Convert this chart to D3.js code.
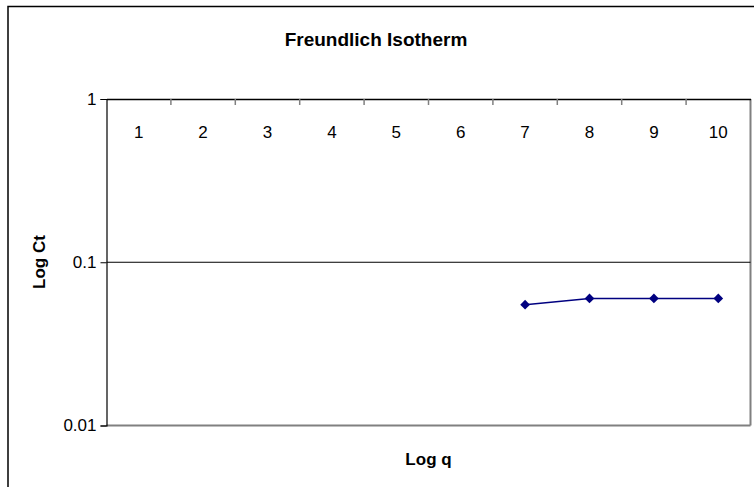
<!DOCTYPE html>
<html>
<head>
<meta charset="utf-8">
<script src="https://cdn.jsdelivr.net/npm/d3@7"></script>
<style>
  body { margin: 0; background: #fff; }
  svg text { font-family: Arial, "Liberation Sans", sans-serif; }
</style>
</head>
<body>
<div id="chart"></div>
<script>
// data
var categories = ["1", "2", "3", "4", "5", "6", "7", "8", "9", "10"];
var logCt = [null, null, null, null, null, null, 0.055, 0.06, 0.06, 0.06];
var yTicks = [0.01, 0.1, 1];

var W = 754, H = 487;
var plot = {left: 106.5, right: 750.5, top: 99, bottom: 425.5};

var svg = d3.select("#chart")
  .append("svg")
    .attr("width", W)
    .attr("height", H);

// chart border (runs off the right and bottom of the window)
svg.append("rect")
  .attr("x", 8).attr("y", 6.5)
  .attr("width", 800).attr("height", 600)
  .attr("fill", "#fff")
  .attr("stroke", "#000")
  .attr("stroke-width", 1.5);

// scales
var x = d3.scaleBand()
  .domain(categories)
  .range([plot.left, plot.right]);

var y = d3.scaleLog()
  .domain([0.01, 1])
  .range([plot.bottom, plot.top]);

// plot area border: gray right & bottom
svg.append("line")
  .attr("x1", plot.right).attr("x2", plot.right)
  .attr("y1", plot.top).attr("y2", plot.bottom)
  .attr("stroke", "#808080").attr("stroke-width", 2);
svg.append("line")
  .attr("x1", plot.left).attr("x2", plot.right)
  .attr("y1", plot.bottom).attr("y2", plot.bottom)
  .attr("stroke", "#808080").attr("stroke-width", 2);

// gridline at 0.1
svg.append("line")
  .attr("x1", plot.left).attr("x2", plot.right)
  .attr("y1", y(0.1)).attr("y2", y(0.1))
  .attr("stroke", "#000").attr("stroke-width", 1);

// Y axis (log)
var yAxis = svg.append("g")
  .attr("transform", "translate(" + plot.left + ",0)")
  .call(d3.axisLeft(y).tickValues(yTicks).tickFormat(d3.format("")).tickSize(6).tickPadding(4));
yAxis.selectAll("text").style("font-size", "17px").attr("fill", "#000");
yAxis.select(".domain").attr("stroke-width", 1.2);

// X axis crosses at y = 1 (top), labels below the line
var xAxis = svg.append("g")
  .attr("transform", "translate(0," + y(1) + ")")
  .call(d3.axisBottom(x).tickSize(0).tickPadding(27));
xAxis.select(".domain").attr("stroke-width", 1.5);
xAxis.selectAll("text").style("font-size", "17px").attr("fill", "#000");

// tick marks between categories
svg.selectAll("xtick")
  .data(categories.slice(1))
  .enter()
  .append("line")
    .attr("x1", function(d) { return x(d); })
    .attr("x2", function(d) { return x(d); })
    .attr("y1", y(1))
    .attr("y2", y(1) + 6)
    .attr("stroke", "#808080")
    .attr("stroke-width", 1.5);

// series
var pts = categories.map(function(c, i) { return {cat: c, v: logCt[i]}; });

var line = d3.line()
  .defined(function(d) { return d.v != null; })
  .x(function(d) { return x(d.cat) + x.bandwidth() / 2; })
  .y(function(d) { return y(d.v); });

svg.append("path")
  .datum(pts)
  .attr("d", line)
  .attr("fill", "none")
  .attr("stroke", "#000080")
  .attr("stroke-width", 1.5);

svg.selectAll("dot")
  .data(pts.filter(function(d) { return d.v != null; }))
  .enter()
  .append("path")
    .attr("d", d3.symbol().type(d3.symbolDiamond2).size(60))
    .attr("transform", function(d) {
      return "translate(" + (x(d.cat) + x.bandwidth() / 2) + "," + y(d.v) + ")";
    })
    .attr("fill", "#000080");

// titles
svg.append("text")
  .attr("x", 376)
  .attr("y", 46)
  .attr("text-anchor", "middle")
  .style("font-size", "19px")
  .style("font-weight", "bold")
  .text("Freundlich Isotherm");

svg.append("text")
  .attr("x", (plot.left + plot.right) / 2)
  .attr("y", 465)
  .attr("text-anchor", "middle")
  .style("font-size", "17px")
  .style("font-weight", "bold")
  .text("Log q");

svg.append("text")
  .attr("transform", "translate(45,262) rotate(-90)")
  .attr("text-anchor", "middle")
  .style("font-size", "17px")
  .style("font-weight", "bold")
  .text("Log Ct");
</script>
</body>
</html>
